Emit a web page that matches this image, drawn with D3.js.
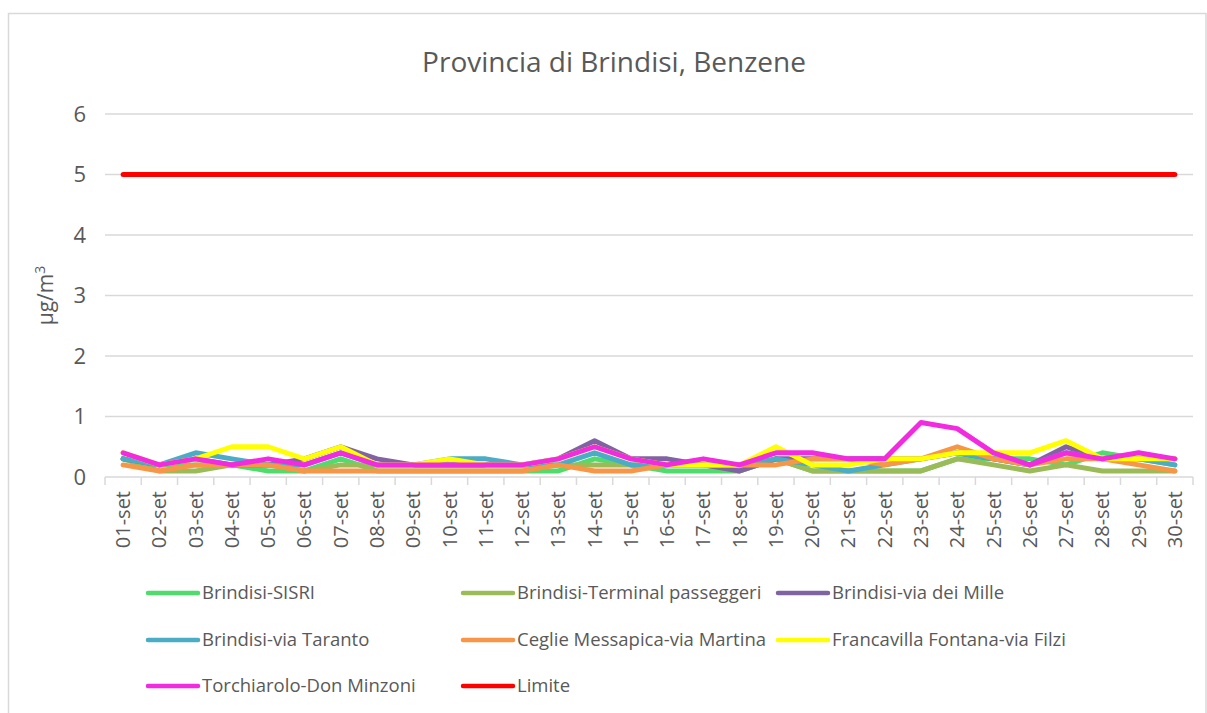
<!DOCTYPE html>
<html>
<head>
<meta charset="utf-8">
<script src="https://cdn.jsdelivr.net/npm/d3@7"></script>
<style>
  body { margin: 0; background: #fff; }
  svg { display: block; font-family: "Open Sans", sans-serif; }
  .grid line { stroke: #d9d9d9; stroke-width: 1.5; }
  .axis text { fill: #595959; font-size: 20px; font-family: "Open Sans", sans-serif; }
  .axis.y text { font-size: 22px; }
  .axis path, .axis line { stroke: #d9d9d9; stroke-width: 1.5; }
  .series { fill: none; stroke-width: 5; stroke-linejoin: round; stroke-linecap: round; }
  .legend text { fill: #595959; font-size: 18.5px; }
</style>
</head>
<body>
<div class="chart"></div>
<script>
var days = ["01-set","02-set","03-set","04-set","05-set","06-set","07-set","08-set","09-set","10-set",
            "11-set","12-set","13-set","14-set","15-set","16-set","17-set","18-set","19-set","20-set",
            "21-set","22-set","23-set","24-set","25-set","26-set","27-set","28-set","29-set","30-set"];

var yTicks = [0, 1, 2, 3, 4, 5, 6];

var sisri      = [0.3,0.2,0.2,0.2,0.1,0.1,0.3,0.1,0.1,0.1,0.1,0.1,0.1,0.3,0.2,0.1,0.1,0.1,0.3,0.1,0.1,0.1,0.1,0.3,0.3,0.3,0.2,0.4,0.3,0.2];
var terminal   = [0.3,0.1,0.1,0.2,0.2,0.1,0.2,0.2,0.2,0.2,0.2,0.2,0.2,0.2,0.2,0.2,0.2,0.1,0.3,0.1,0.1,0.1,0.1,0.3,0.2,0.1,0.2,0.1,0.1,0.1];
var viaMille   = [0.3,0.2,0.3,0.2,0.2,0.3,0.5,0.3,0.2,0.2,0.2,0.2,0.3,0.6,0.3,0.3,0.2,0.1,0.3,0.3,0.3,0.3,0.3,0.4,0.3,0.2,0.5,0.3,0.3,0.3];
var viaTaranto = [0.3,0.2,0.4,0.3,0.2,0.2,0.4,0.2,0.2,0.3,0.3,0.2,0.2,0.4,0.2,0.2,0.2,0.2,0.3,0.2,0.1,0.2,0.3,0.4,0.3,0.2,0.4,0.3,0.3,0.2];
var ceglie     = [0.2,0.1,0.2,0.2,0.2,0.1,0.1,0.1,0.1,0.1,0.1,0.1,0.2,0.1,0.1,0.2,0.2,0.2,0.2,0.3,0.3,0.2,0.3,0.5,0.3,0.2,0.3,0.3,0.2,0.1];
var francavilla= [0.4,0.2,0.3,0.5,0.5,0.3,0.5,0.2,0.2,0.3,0.2,0.2,0.3,0.5,0.3,0.2,0.2,0.2,0.5,0.2,0.2,0.3,0.3,0.4,0.4,0.4,0.6,0.3,0.3,0.3];
var torchiarolo= [0.4,0.2,0.3,0.2,0.3,0.2,0.4,0.2,0.2,0.2,0.2,0.2,0.3,0.5,0.3,0.2,0.3,0.2,0.4,0.4,0.3,0.3,0.9,0.8,0.4,0.2,0.4,0.3,0.4,0.3];
var limite     = days.map(function() { return 5; });

var seriesNames  = ["Brindisi-SISRI","Brindisi-Terminal passeggeri","Brindisi-via dei Mille",
                    "Brindisi-via Taranto","Ceglie Messapica-via Martina","Francavilla Fontana-via Filzi",
                    "Torchiarolo-Don Minzoni","Limite"];
var seriesValues = [sisri, terminal, viaMille, viaTaranto, ceglie, francavilla, torchiarolo, limite];
var seriesColors = ["#4fdc6c","#9bbb59","#8064a2","#4bacc6","#f79646","#ffff00","#f22be0","#ff0000"];

var width = 1207, height = 713,
    margin = { top: 114, left: 105, right: 14, bottom: 236 };

var svg = d3.select(".chart").append("svg")
    .attr("width", width)
    .attr("height", height);

// chart area border
svg.append("rect")
    .attr("x", 8.5).attr("y", 13.5)
    .attr("width", 1197.5).attr("height", 720)
    .attr("fill", "#fff")
    .attr("stroke", "#d9d9d9")
    .attr("stroke-width", 1.5);

svg.append("text")
    .attr("x", 614).attr("y", 72)
    .attr("text-anchor", "middle")
    .attr("fill", "#595959")
    .style("font-size", "28px")
    .text("Provincia di Brindisi, Benzene");

var xScale = d3.scaleBand()
    .domain(days)
    .range([margin.left, width - margin.right]);

var yScale = d3.scaleLinear()
    .domain([0, 6])
    .range([height - margin.bottom, margin.top]);

// gridlines
svg.append("g")
    .attr("class", "grid")
    .selectAll("line")
    .data(yTicks.slice(1))
    .enter().append("line")
      .attr("x1", margin.left)
      .attr("x2", width - margin.right)
      .attr("y1", function(d) { return yScale(d); })
      .attr("y2", function(d) { return yScale(d); });

var yAxis = d3.axisLeft(yScale).tickValues(yTicks).tickFormat(d3.format("d")).tickSize(0).tickPadding(19);
svg.append("g")
    .attr("class", "axis y")
    .attr("transform", "translate(" + margin.left + ",0)")
    .call(yAxis)
    .call(function(g) { g.select(".domain").remove(); });

// x axis with ticks at category edges
var xg = svg.append("g")
    .attr("class", "axis x")
    .attr("transform", "translate(0," + yScale(0) + ")");
xg.append("line")
    .attr("x1", margin.left).attr("x2", width - margin.right)
    .attr("y1", 0).attr("y2", 0);
xg.selectAll(".edge")
    .data(d3.range(days.length + 1))
    .enter().append("line")
      .attr("class", "edge")
      .attr("x1", function(i) { return margin.left + i * xScale.step(); })
      .attr("x2", function(i) { return margin.left + i * xScale.step(); })
      .attr("y1", 0).attr("y2", 8);
xg.selectAll(".lbl")
    .data(days)
    .enter().append("text")
      .attr("class", "lbl")
      .attr("text-anchor", "end")
      .attr("dy", ".35em")
      .attr("transform", function(d) {
        return "translate(" + (xScale(d) + xScale.bandwidth() / 2) + ",14) rotate(-90)";
      })
      .text(function(d) { return d; });

// y axis title
var yTitle = svg.append("text")
    .attr("transform", "translate(53," + yScale(3) + ") rotate(-90)")
    .attr("text-anchor", "middle")
    .attr("fill", "#595959")
    .style("font-size", "21px");
yTitle.append("tspan").text("μg/m");
yTitle.append("tspan").attr("dy", "-0.55em").style("font-size", "14px").text("3");

var line = d3.line()
    .x(function(d, i) { return xScale(days[i]) + xScale.bandwidth() / 2; })
    .y(function(d) { return yScale(d); });

svg.append("g")
    .selectAll("path")
    .data(seriesValues)
    .enter().append("path")
      .attr("class", "series")
      .attr("stroke", function(d, i) { return seriesColors[i]; })
      .attr("stroke-linecap", function(d, i) { return i === 7 ? "butt" : "round"; })
      .attr("d", line);

// legend
var legendCols = [148, 463, 778],
    legendRows = [593, 640, 686];
var legend = svg.append("g")
    .attr("class", "legend")
    .selectAll("g")
    .data(seriesNames)
    .enter().append("g")
      .attr("transform", function(d, i) {
        return "translate(" + legendCols[i % 3] + "," + legendRows[Math.floor(i / 3)] + ")";
      });
legend.append("line")
    .attr("x1", 0).attr("x2", 50)
    .attr("stroke", function(d, i) { return seriesColors[i]; })
    .attr("stroke-width", 4.5)
    .attr("stroke-linecap", "round");
legend.append("text")
    .attr("x", 54)
    .attr("dy", ".35em")
    .text(function(d) { return d; });
</script>
</body>
</html>
